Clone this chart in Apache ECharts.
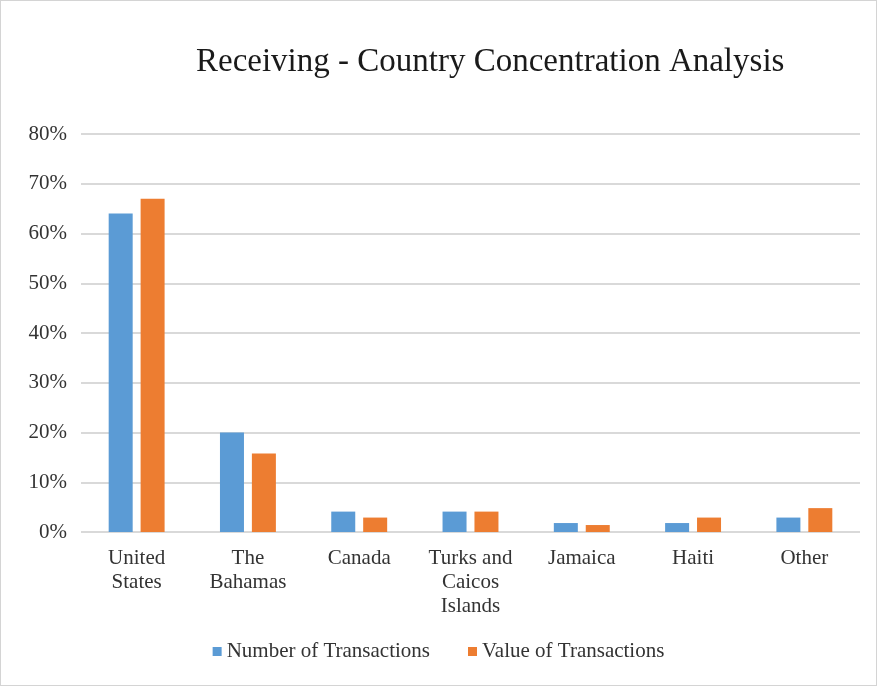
<!DOCTYPE html>
<html>
<head>
<meta charset="utf-8">
<script src="https://cdn.jsdelivr.net/npm/echarts@6/dist/echarts.min.js"></script>
<style>
  html, body { margin: 0; padding: 0; background: #fff; }
  #chart { width: 877px; height: 686px; box-sizing: border-box; border: 1px solid #d4d4d4; }
</style>
</head>
<body>
<div id="chart"></div>
<script>
// data (percent)
var categories = ['United\nStates', 'The\nBahamas', 'Canada', 'Turks and\nCaicos\nIslands', 'Jamaica', 'Haiti', 'Other']
var numberOfTransactions = [64, 20, 4.1, 4.1, 1.8, 1.8, 2.9]
var valueOfTransactions = [67, 15.8, 2.9, 4.1, 1.4, 2.9, 4.8]
var yTicks = { min: 0, max: 80, interval: 10 }

var serif = '"Liberation Serif", "DejaVu Serif", serif'
var myChart = echarts.init(document.getElementById('chart'))
myChart.setOption({
  title: {
    text: 'Receiving - Country Concentration Analysis',
    left: 190,
    top: 40,
    textStyle: { fontFamily: serif, fontSize: 33, fontWeight: 'normal', color: '#1a1a1a' }
  },
  legend: {
    bottom: 18,
    left: 'center',
    itemWidth: 9,
    itemHeight: 9,
    itemGap: 38,
    icon: 'rect',
    textStyle: { fontFamily: serif, fontSize: 21, color: '#333' },
    data: ['Number of Transactions', 'Value of Transactions']
  },
  grid: { left: 80, right: 16, top: 133, height: 398, containLabel: false },
  xAxis: {
    type: 'category',
    data: categories,
    axisLine: { show: false },
    axisTick: { show: false },
    axisLabel: { fontFamily: serif, fontSize: 21, color: '#333', lineHeight: 24, margin: 14, interval: 0 }
  },
  yAxis: {
    type: 'value',
    min: yTicks.min,
    max: yTicks.max,
    interval: yTicks.interval,
    axisLabel: { formatter: '{value}%', fontFamily: serif, fontSize: 21, color: '#333', margin: 14 },
    splitLine: { lineStyle: { color: '#d9d9d9', width: 2 } }
  },
  series: [
    {
      name: 'Number of Transactions',
      type: 'bar',
      data: numberOfTransactions,
      barWidth: 24,
      barGap: '33%',
      itemStyle: { color: '#5b9bd5' }
    },
    {
      name: 'Value of Transactions',
      type: 'bar',
      data: valueOfTransactions,
      barWidth: 24,
      itemStyle: { color: '#ed7d31' }
    }
  ]
})
</script>
</body>
</html>
